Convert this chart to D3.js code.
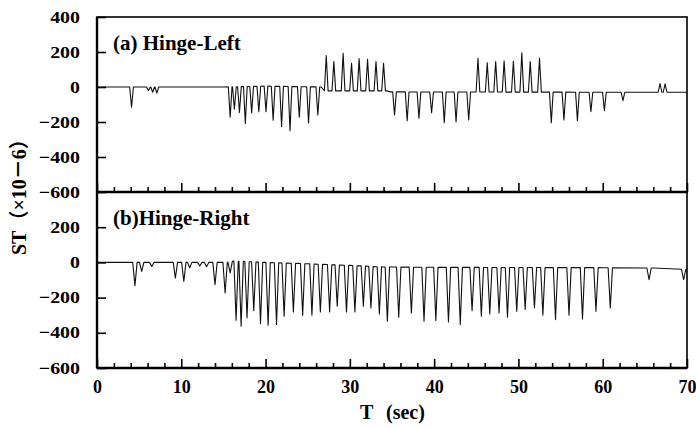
<!DOCTYPE html>
<html><head><meta charset="utf-8">
<script src="https://cdn.jsdelivr.net/npm/d3@7"></script>
<style>
body{margin:0;background:#fff;}
text{font-family:"Liberation Serif","Noto Sans CJK SC",serif;font-weight:bold;fill:#000;}
</style></head>
<body><svg id="c" width="696" height="428"></svg>
<script>
// ---- data ----
const xTicksMajor = [0,10,20,30,40,50,60,70];
const xTicksMinor = [2,4,6,8,12,14,16,18,22,24,26,28,32,34,36,38,42,44,46,48,52,54,56,58,62,64,66,68];
const topYTicks = [400,200,0,-200,-400,-600];
const botYTicks = [200,0,-200,-400,-600];

// (a) Hinge-Left : baseline breakpoints and spike peaks
const topBaseT = [0,15,20,26.6,27.0,34.4,34.8,62,70];
const topBaseV = [0,0,5,0,-22,-22,-28,-30,-30];
const topSpikeT = [4.1,6.1,6.6,7.1,
  15.8,16.3,16.9,17.6,18.35,19.2,20.05,20.9,21.9,22.9,24.0,25.1,26.2,
  27.2,28.1,29.2,30.2,31.1,32.1,33.1,34.0,
  35.3,36.8,38.2,39.7,41.2,42.6,44.1,
  45.2,46.3,47.3,48.3,49.4,50.4,51.4,52.5,
  53.9,55.4,57.0,58.6,60.2,62.4,
  66.8,67.4];
const topSpikeV = [-116,-20,-30,-35,
  -172,-127,-145,-208,-148,-141,-141,-190,-227,-250,-173,-206,-160,
  180,145,192,135,162,158,145,135,
  -160,-192,-179,-147,-204,-200,-189,
  164,139,145,150,147,196,145,164,
  -204,-189,-192,-141,-135,-78,
  20,18];

// (b) Hinge-Right
const botBaseT = [0,15.5,16.2,20,25,30,34,40,60,66,70];
const botBaseV = [0,0,8,0,-8,-17,-26,-28,-30,-32,-40];
const botSpikeT = [4.5,5.3,6.5,9.3,10.3,11.0,12.2,13.0,14.0,15.2,15.8,
  16.5,17.1,17.8,18.6,19.4,20.3,21.3,22.2,23.3,24.4,25.5,26.5,27.6,28.5,29.6,30.6,31.6,32.5,33.5,34.45,
  35.8,37.3,38.8,40.2,41.7,43.1,44.5,45.6,46.6,47.7,48.7,49.8,50.8,51.9,52.9,54.4,56.0,57.6,59.2,60.9,
  65.5,69.6];
const botSpikeV = [-132,-51,-23,-89,-108,-30,-20,-25,-126,-174,-60,
  -329,-363,-315,-274,-348,-357,-353,-306,-282,-300,-300,-282,-282,-249,-282,-282,-249,-259,-293,-334,
  -312,-287,-334,-330,-338,-353,-274,-306,-293,-287,-312,-278,-268,-259,-300,-325,-300,-321,-278,-259,
  -98,-98];

// ---- layout ----
const svg = d3.select("#c");
const L = 97, R = 687;
const x = d3.scaleLinear([0,70],[L,R]);
const yTop = d3.scaleLinear([-600,400],[192,17]);
const yBot = d3.scaleLinear([-600,400],[368,192]);

function trace(bt, bv, st, sv, hw){
  const base = d3.scaleLinear(bt, bv);
  const pts = [];
  bt.forEach((t,i)=>{
    if(!st.some(s=>Math.abs(s-t)<=hw)) pts.push([t,bv[i]]);
  });
  st.forEach((t,i)=>{
    pts.push([t-hw, base(t-hw)]);
    pts.push([t, sv[i]]);
    pts.push([t+hw, base(t+hw)]);
  });
  pts.sort((a,b)=>a[0]-b[0]);
  return pts;
}

function panel(y, baseT, baseV, spT, spV, hw, yTicks, showXLabels){
  const g = svg.append("g");
  const [y0,y1] = y.range();
  // data line
  const line = d3.line().x(d=>x(d[0])).y(d=>y(d[1]));
  g.append("path").datum(trace(baseT,baseV,spT,spV,hw))
    .attr("d",line).attr("fill","none").attr("stroke","#111").attr("stroke-width",1.1)
    .attr("stroke-linejoin","round");
  // minor x ticks
  g.append("g").attr("transform",`translate(0,${y0})`)
    .call(d3.axisBottom(x).tickValues(xTicksMinor).tickSizeInner(-5).tickSizeOuter(0).tickFormat(""))
    .call(a=>a.select(".domain").remove())
    .call(a=>a.selectAll("line").attr("stroke-width",1.6));
  // major x ticks
  const ax = g.append("g").attr("transform",`translate(0,${y0})`)
    .call(d3.axisBottom(x).tickValues(xTicksMajor).tickSizeInner(-9).tickSizeOuter(0).tickPadding(12)
      .tickFormat(showXLabels? d3.format("d") : ""))
    .call(a=>a.select(".domain").remove())
    .call(a=>a.selectAll("line").attr("stroke-width",1.6));
  ax.selectAll("text").attr("font-size",18).attr("font-family",null);
  // y ticks
  const ay = g.append("g").attr("transform",`translate(${L},0)`)
    .call(d3.axisLeft(y).tickValues(yTicks).tickSizeInner(-9).tickSizeOuter(0).tickPadding(17))
    .call(a=>a.select(".domain").remove())
    .call(a=>a.selectAll("line").attr("stroke-width",1.6));
  ay.selectAll("text").attr("font-size",17).attr("font-family",null).attr("dy","0.3em")
    .each(function(){ const w=this.getComputedTextLength();
      d3.select(this).attr("textLength",w*1.17).attr("lengthAdjust","spacingAndGlyphs"); });
  // frame
  g.append("rect").attr("x",L).attr("y",y1).attr("width",R-L).attr("height",y0-y1)
    .attr("fill","none").attr("stroke","#000").attr("stroke-width",1.6);
  g.append("line").attr("x1",L).attr("x2",L).attr("y1",y1).attr("y2",y0).attr("stroke","#000").attr("stroke-width",2.4);
  g.append("line").attr("x1",L).attr("x2",R).attr("y1",y0).attr("y2",y0).attr("stroke","#000").attr("stroke-width",2.4);
  return g;
}

panel(yTop, topBaseT, topBaseV, topSpikeT, topSpikeV, 0.22, topYTicks, false);
panel(yBot, botBaseT, botBaseV, botSpikeT, botSpikeV, 0.26, botYTicks, true);

// panel titles
svg.append("text").attr("x",113).attr("y",50).attr("font-size",21).text("(a) Hinge-Left");
svg.append("text").attr("x",113).attr("y",225).attr("font-size",21).text("(b)Hinge-Right");

// axis titles
svg.append("text").attr("x",360).attr("y",419).attr("font-size",20).text("T");
svg.append("text").attr("x",386).attr("y",419).attr("font-size",20).text("(sec)");
svg.append("text").attr("transform","translate(26,255) rotate(-90)").attr("font-size",20)
  .text("ST（×10－6）");
</script></body></html>
